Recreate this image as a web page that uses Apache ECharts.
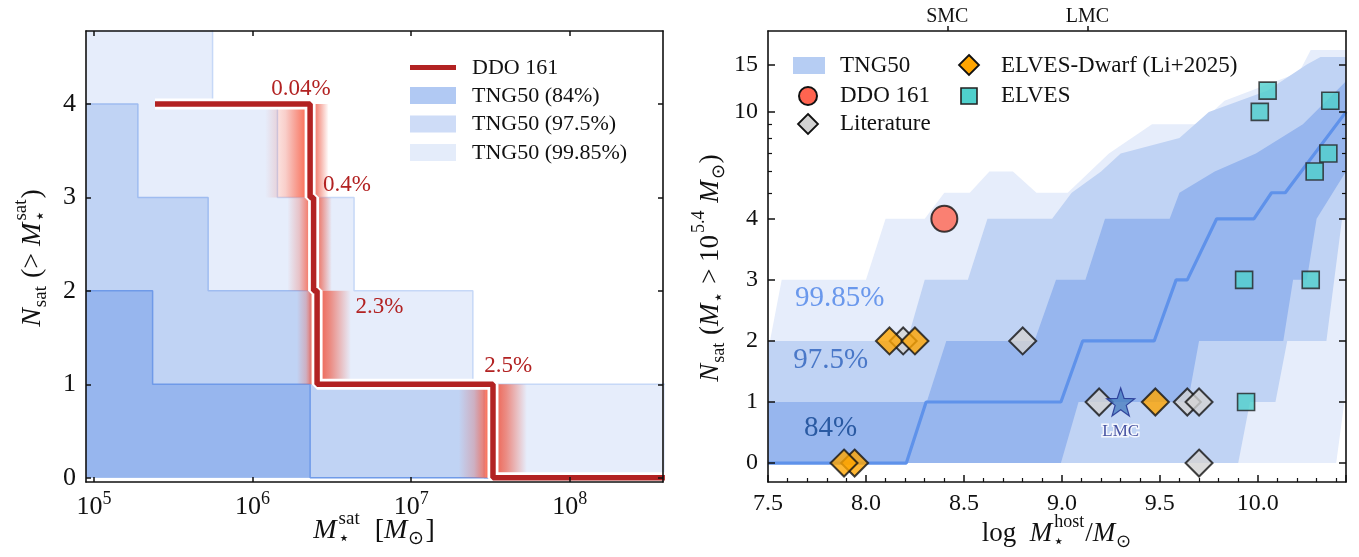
<!DOCTYPE html>
<html>
<head>
<meta charset="utf-8">
<script src="https://cdn.jsdelivr.net/npm/echarts@6/dist/echarts.min.js"></script>
<style>
  html, body { margin: 0; background: #fff; }
  #chart { width: 1359px; height: 557px; }
</style>
</head>
<body>
<div id="chart"></div>
<script>
// ---------- left panel: cumulative satellite mass function ----------
// x values are log10(M_sat / Msun); each envelope holds N from x[i] until x[i+1]
const env99X = [4.95, 5.748, 6.157, 6.64, 7.389, 8.6]
const env99N = [5, 4, 3, 2, 1, 1]
const env975X = [4.95, 5.277, 5.72, 6.363, 7.46, 8.6]
const env975N = [4, 3, 2, 1, 0, 0]
const env84X = [4.95, 5.37, 6.363, 8.6]
const env84N = [2, 1, 0, 0]

// DDO 161 observed satellites
const ddoX = [5.385, 6.363, 6.385, 6.407, 7.516, 8.6]
const ddoN = [4, 3, 2, 1, 0, 0]

// mass uncertainty shading around every DDO 161 step
const shadeLo = [6.08, 6.22, 6.28, 7.30]
const shadeHi = [6.48, 6.50, 6.62, 7.73]
const shadeStep = [6.363, 6.385, 6.407, 7.516]
const shadeNlo = [3, 2, 1, 0]
const shadeNhi = [4, 3, 2, 1]

// probability annotations
const pctText = ['0.04%', '0.4%', '2.3%', '2.5%']
const pctX = [6.306, 6.596, 6.801, 7.612]
const pctY = [4.16, 3.13, 1.83, 1.20]

const leftTicksX = [5, 6, 7, 8]
const leftTicksY = [0, 1, 2, 3, 4]

// ---------- right panel: N_sat vs host stellar mass ----------
// TNG50 envelopes (upper and lower edges), x = log M_host, N = number of satellites
const out99UpX = [7.5, 7.51, 7.57, 8.0, 8.1, 8.3, 8.4, 8.53, 8.63, 8.75, 8.87, 9.03, 9.24, 9.46, 9.7, 9.83, 10.21, 10.27, 10.45]
const out99UpN = [2, 2, 3, 3, 4, 4, 5, 5, 6, 6, 5, 5, 7, 9, 9, 11, 14, 17, 17]
const out99LoX = [7.5, 10.40, 10.45]
const out99LoN = [0, 0, 1.2]

const mid975UpX = [7.5, 8.21, 8.30, 8.52, 8.62, 8.95, 9.05, 9.2, 9.3, 9.6, 9.75, 10.05, 10.25, 10.32, 10.45]
const mid975UpN = [2, 2, 3, 3, 4, 4, 5, 6, 7, 8, 10, 12, 15, 16, 16]
const mid975LoX = [7.5, 9.90, 9.96, 10.09, 10.15, 10.35, 10.39, 10.43, 10.45]
const mid975LoN = [0, 0, 1, 1, 2, 2, 3, 4, 4]

const in84UpX = [7.5, 8.31, 8.41, 8.86, 8.97, 9.12, 9.22, 9.55, 9.6, 9.78, 9.99, 10.23, 10.45]
const in84UpN = [1, 1, 2, 2, 3, 3, 4, 4, 5, 6, 7, 9, 13]
const in84LoX = [7.5, 8.995, 9.085, 9.643, 9.70, 10.13, 10.18, 10.25, 10.3, 10.45]
const in84LoN = [0, 0, 1, 1, 2, 2, 3, 3, 4, 6]

const medX = [7.5, 8.206, 8.307, 8.995, 9.106, 9.471, 9.583, 9.64, 9.79, 9.98, 10.07, 10.14, 10.45]
const medN = [0, 0, 1, 1, 2, 2, 3, 3, 4, 4, 5, 5, 10]

// observed systems
const litX = [8.19, 8.8, 9.19, 9.64, 9.70, 9.70]
const litN = [2, 2, 1, 1, 1, 0]
const dwarfX = [7.942, 7.888, 8.12, 8.25, 9.477]
const dwarfN = [0, 0, 2, 2, 1]
const elvesX = [10.05, 10.01, 10.37, 10.36, 10.29, 9.93, 10.27, 9.94]
const elvesN = [12, 10, 11, 7, 6, 3, 3, 1]
const ddoHostX = [8.40]
const ddoHostN = [4]
const lmcX = [9.30]
const lmcN = [1]

const bandText = ['99.85%', '97.5%', '84%']
const bandTextX = [7.866, 7.82, 7.82]
const bandTextN = [2.70, 1.68, 0.57]
const bandTextColor = ['#6a98ec', '#4a78c8', '#2a5aa2']

const rightTicksN = [0, 1, 2, 3, 4, 10, 15]
const rightMinorN = [5, 6, 7, 8, 9]
const hostNames = ['SMC', 'LMC']
const hostNameX = [8.415, 9.13]

// symlog-like vertical scale: linear up to 4, logarithmic above
function symT(n) {
  return n <= 4 ? n : 4 + 4.4 * Math.log10(n / 4)
}

const FONT = 'Liberation Serif'
const BLACK = '#111'

function zip(xs, ys, f) {
  return xs.map(function (x, i) { return [x, f ? f(ys[i]) : ys[i]] })
}

// text measuring for the hand-set math titles
const measureCtx = document.createElement('canvas').getContext('2d')
function fontOf(size, italic) {
  return (italic ? 'italic ' : '') + size + 'px "Liberation Serif"'
}
function textWidth(t, size, italic) {
  measureCtx.font = fontOf(size, italic)
  return measureCtx.measureText(t).width
}

// parts: ['i', text] italic, ['r', text] roman, ['s', sub, sup] stacked scripts
function mathLabel(cx, cy, size, rot, parts) {
  let small = Math.round(size * 0.68)
  let items = []
  let pos = 0
  parts.forEach(function (p) {
    if (p[0] === 'i' || p[0] === 'r') {
      items.push({t: p[1], x: pos, dy: 0, size: size, italic: p[0] === 'i'})
      pos += textWidth(p[1], size, p[0] === 'i')
    } else {
      let w = 0
      if (p[1]) {
        items.push({t: p[1], x: pos + 1, dy: size * 0.3, size: small})
        w = textWidth(p[1], small)
      }
      if (p[2]) {
        items.push({t: p[2], x: pos + 2, dy: -size * 0.42, size: small})
        w = Math.max(w, textWidth(p[2], small) + 1)
      }
      pos += w + 2
    }
  })
  return {
    type: 'group',
    x: cx,
    y: cy,
    rotation: rot,
    children: items.map(function (it) {
      return {
        type: 'text',
        x: it.x - pos / 2,
        y: it.dy,
        style: {text: it.t, font: fontOf(it.size, it.italic), fill: BLACK, verticalAlign: 'middle'}
      }
    })
  }
}

function bandSeries(upX, upN, loX, loN, color) {
  let pts = zip(upX, upN, symT).concat(zip(loX, loN, symT).reverse())
  return {
    type: 'custom',
    xAxisIndex: 2,
    yAxisIndex: 2,
    data: pts,
    clip: true,
    z: 1,
    silent: true,
    renderItem: function (params, api) {
      if (params.dataIndex !== 0) return
      return {
        type: 'polygon',
        shape: {points: pts.map(function (p) { return api.coord(p) })},
        style: {fill: color}
      }
    }
  }
}

function envSeries(xs, ns, fill, edge, z) {
  return {
    type: 'line',
    xAxisIndex: 0,
    yAxisIndex: 0,
    step: 'end',
    symbol: 'none',
    data: zip(xs, ns),
    lineStyle: {color: edge, width: 1.5},
    areaStyle: {color: fill, opacity: 1},
    z: z,
    silent: true
  }
}

const axisLine = {show: true, onZero: false, lineStyle: {color: BLACK, width: 1.6}}

function tickSuper(v) {
  return '{b|10}{s|' + v + '}'
}

let chart = echarts.init(document.getElementById('chart'), null, {renderer: 'canvas'})

let option = {
  animation: false,
  backgroundColor: '#fff',
  textStyle: {fontFamily: FONT},
  grid: [
    {left: 86, right: 696, top: 31, bottom: 75},
    {left: 768, right: 13, top: 31, bottom: 75},
    {left: 768, right: 13, top: 31, bottom: 75}
  ],
  xAxis: [
    {
      gridIndex: 0, type: 'value', position: 'bottom', min: 4.95, max: 8.588, z: 10,
      axisLine: axisLine,
      axisTick: {inside: true, length: 5, customValues: leftTicksX, lineStyle: {color: BLACK, width: 1.5}},
      axisLabel: {
        customValues: leftTicksX, formatter: tickSuper, margin: 8, color: BLACK,
        rich: {
          b: {fontSize: 26, fontFamily: FONT, color: BLACK},
          s: {fontSize: 18, fontFamily: FONT, color: BLACK, padding: [0, 0, 16, 0]}
        }
      },
      splitLine: {show: false}
    },
    {
      gridIndex: 0, type: 'value', position: 'top', min: 4.95, max: 8.588, z: 10,
      axisLine: axisLine,
      axisTick: {inside: true, length: 5, customValues: leftTicksX, lineStyle: {color: BLACK, width: 1.5}},
      axisLabel: {show: false},
      splitLine: {show: false}
    },
    {
      gridIndex: 1, type: 'value', position: 'bottom', min: 7.5, max: 10.45, interval: 0.5, z: 10,
      axisLine: axisLine,
      axisTick: {inside: true, length: 7, lineStyle: {color: BLACK, width: 1.5}},
      minorTick: {show: true, splitNumber: 5, length: 4, lineStyle: {color: BLACK, width: 1.2}},
      axisLabel: {
        formatter: function (v) { return v.toFixed(1) },
        fontSize: 24, color: BLACK, fontFamily: FONT, margin: 10, showMaxLabel: false
      },
      splitLine: {show: false}
    },
    {
      gridIndex: 1, type: 'value', position: 'top', min: 7.5, max: 10.45, z: 10,
      axisLine: axisLine,
      axisTick: {inside: false, length: 5, customValues: hostNameX, lineStyle: {color: BLACK, width: 1.5}},
      axisLabel: {
        customValues: hostNameX,
        formatter: function (v) {
          let i = hostNameX.indexOf(v)
          return i >= 0 ? hostNames[i] : ''
        },
        fontSize: 20, color: BLACK, fontFamily: FONT, margin: 4
      },
      splitLine: {show: false}
    },
    {
      gridIndex: 2, type: 'value', min: 7.5, max: 10.45,
      axisLine: {show: false}, axisTick: {show: false}, axisLabel: {show: false}, splitLine: {show: false}
    }
  ],
  yAxis: [
    {
      gridIndex: 0, type: 'value', position: 'left', min: -0.045, max: 4.78, z: 10,
      axisLine: axisLine,
      axisTick: {inside: true, length: 5, customValues: leftTicksY, lineStyle: {color: BLACK, width: 1.5}},
      axisLabel: {customValues: leftTicksY, fontSize: 26, color: BLACK, fontFamily: FONT, margin: 10},
      splitLine: {show: false}
    },
    {
      gridIndex: 0, type: 'value', position: 'right', min: -0.045, max: 4.78, z: 10,
      axisLine: axisLine,
      axisTick: {inside: true, length: 5, customValues: leftTicksY, lineStyle: {color: BLACK, width: 1.5}},
      axisLabel: {show: false},
      splitLine: {show: false}
    },
    {
      gridIndex: 1, type: 'value', position: 'left', min: -0.31, max: symT(20), z: 10,
      axisLine: axisLine,
      axisTick: {inside: true, length: 7, customValues: rightTicksN.map(symT), lineStyle: {color: BLACK, width: 1.5}},
      axisLabel: {
        customValues: rightTicksN.map(symT),
        formatter: function (v) {
          for (let i = 0; i < rightTicksN.length; i++) {
            if (Math.abs(symT(rightTicksN[i]) - v) < 1e-6) return String(rightTicksN[i])
          }
          return ''
        },
        fontSize: 24, color: BLACK, fontFamily: FONT, margin: 10
      },
      splitLine: {show: false}
    },
    {
      gridIndex: 1, type: 'value', position: 'right', min: -0.31, max: symT(20), z: 10,
      axisLine: axisLine,
      axisTick: {inside: true, length: 7, customValues: rightTicksN.map(symT), lineStyle: {color: BLACK, width: 1.5}},
      axisLabel: {show: false},
      splitLine: {show: false}
    },
    {
      gridIndex: 2, type: 'value', position: 'left', min: -0.31, max: symT(20), z: 10,
      axisLine: {show: false},
      axisTick: {inside: true, length: 4, customValues: rightMinorN.map(symT), lineStyle: {color: BLACK, width: 1.2}},
      axisLabel: {show: false},
      splitLine: {show: false}
    },
    {
      gridIndex: 2, type: 'value', position: 'right', min: -0.31, max: symT(20), z: 10,
      axisLine: {show: false},
      axisTick: {inside: true, length: 4, customValues: rightMinorN.map(symT), lineStyle: {color: BLACK, width: 1.2}},
      axisLabel: {show: false},
      splitLine: {show: false}
    }
  ],
  series: [
    // left panel envelopes
    envSeries(env99X, env99N, '#e6edfb', '#c6d8f7', 1),
    envSeries(env975X, env975N, '#c0d3f4', '#9fbcf0', 2),
    envSeries(env84X, env84N, '#97b6ee', '#6f9ae8', 3),
    {
      type: 'custom',
      xAxisIndex: 0,
      yAxisIndex: 0,
      z: 4,
      silent: true,
      data: shadeLo.map(function (lo, i) { return [lo, shadeHi[i], shadeNlo[i], shadeNhi[i], shadeStep[i]] }),
      encode: {x: [0, 1], y: [2, 3]},
      renderItem: function (params, api) {
        let lo = api.value(0), hi = api.value(1), st = api.value(4)
        let p0 = api.coord([lo, api.value(3)])
        let p1 = api.coord([hi, api.value(2)])
        let f = (st - lo) / (hi - lo)
        return {
          type: 'rect',
          shape: {x: p0[0], y: p0[1], width: p1[0] - p0[0], height: p1[1] - p0[1]},
          style: {
            fill: new echarts.graphic.LinearGradient(0, 0, 1, 0, [
              {offset: 0, color: 'rgba(235,95,80,0)'},
              {offset: f * 0.45, color: 'rgba(235,95,80,0.3)'},
              {offset: Math.max(f - 0.1, 0), color: 'rgba(250,100,75,0.85)'},
              {offset: f, color: 'rgba(240,80,60,0.95)'},
              {offset: f + (1 - f) * 0.4, color: 'rgba(238,90,70,0.65)'},
              {offset: 1, color: 'rgba(238,90,70,0)'}
            ])
          }
        }
      }
    },
    {
      type: 'line', xAxisIndex: 0, yAxisIndex: 0, step: 'end', symbol: 'none', z: 5, silent: true,
      data: zip(ddoX, ddoN), lineStyle: {color: '#fff', width: 11}
    },
    {
      type: 'line', xAxisIndex: 0, yAxisIndex: 0, step: 'end', symbol: 'none', z: 6, silent: true,
      data: zip(ddoX, ddoN), lineStyle: {color: '#b22222', width: 5.5}
    },
    {
      type: 'custom', xAxisIndex: 0, yAxisIndex: 0, z: 7, silent: true,
      data: zip(pctX, pctY),
      renderItem: function (params, api) {
        let p = api.coord([api.value(0), api.value(1)])
        return {
          type: 'text', x: p[0], y: p[1],
          style: {text: pctText[params.dataIndex], fill: '#b22222', font: '23px "Liberation Serif"', align: 'center', verticalAlign: 'middle'}
        }
      }
    },
    // right panel envelopes
    bandSeries(out99UpX, out99UpN, out99LoX, out99LoN, '#e6edfb'),
    bandSeries(mid975UpX, mid975UpN, mid975LoX, mid975LoN, '#c0d3f4'),
    bandSeries(in84UpX, in84UpN, in84LoX, in84LoN, '#97b6ee'),
    {
      type: 'line', xAxisIndex: 2, yAxisIndex: 2, symbol: 'none', z: 3, silent: true,
      data: zip(medX, medN, symT), lineStyle: {color: '#5f92ea', width: 3.2}
    },
    {
      type: 'custom', xAxisIndex: 2, yAxisIndex: 2, z: 3, silent: true,
      data: zip(bandTextX, bandTextN),
      renderItem: function (params, api) {
        let p = api.coord([api.value(0), api.value(1)])
        return {
          type: 'text', x: p[0], y: p[1],
          style: {text: bandText[params.dataIndex], fill: bandTextColor[params.dataIndex], font: '29px "Liberation Serif"', align: 'center', verticalAlign: 'middle'}
        }
      }
    },
    {
      type: 'scatter', xAxisIndex: 2, yAxisIndex: 2, z: 4, silent: true,
      symbol: 'diamond', symbolSize: 27,
      data: zip(litX, litN, symT),
      itemStyle: {color: '#d3d3d3', borderColor: BLACK, borderWidth: 2}
    },
    {
      type: 'scatter', xAxisIndex: 2, yAxisIndex: 2, z: 5, silent: true,
      symbol: 'diamond', symbolSize: 27,
      data: zip(dwarfX, dwarfN, symT),
      itemStyle: {color: '#ffa500', borderColor: BLACK, borderWidth: 2}
    },
    {
      type: 'scatter', xAxisIndex: 2, yAxisIndex: 2, z: 5, silent: true,
      symbol: 'rect', symbolSize: 17,
      data: zip(elvesX, elvesN, symT),
      itemStyle: {color: '#4fd0cc', borderColor: '#222', borderWidth: 1.6}
    },
    {
      type: 'scatter', xAxisIndex: 2, yAxisIndex: 2, z: 6, silent: true,
      symbol: 'circle', symbolSize: 26,
      data: zip(ddoHostX, ddoHostN, symT),
      itemStyle: {color: '#ff6450', borderColor: BLACK, borderWidth: 2}
    },
    {
      type: 'scatter', xAxisIndex: 2, yAxisIndex: 2, z: 6, silent: true,
      symbol: 'path://M0,-10L2.35,-3.24L9.51,-3.09L3.8,1.24L5.88,8.09L0,4L-5.88,8.09L-3.8,1.24L-9.51,-3.09L-2.35,-3.24Z',
      symbolSize: 28,
      data: zip(lmcX, lmcN, symT),
      itemStyle: {color: '#4a80c0', borderColor: '#1c2a8c', borderWidth: 1.2},
      label: {
        show: true, position: 'bottom', distance: 6, formatter: 'LMC',
        fontFamily: FONT, fontSize: 17, color: '#1c2a8c', textBorderColor: '#fff', textBorderWidth: 3
      }
    }
  ],
  graphic: [
    // left legend
    {type: 'line', shape: {x1: 410, y1: 67.5, x2: 456, y2: 67.5}, style: {stroke: '#b22222', lineWidth: 5}},
    {type: 'text', x: 472, y: 68, style: {text: 'DDO 161', font: '22px "Liberation Serif"', fill: BLACK, verticalAlign: 'middle'}},
    {type: 'rect', shape: {x: 410, y: 87, width: 46, height: 17}, style: {fill: '#b1c9f3'}},
    {type: 'text', x: 472, y: 96, style: {text: 'TNG50 (84%)', font: '22px "Liberation Serif"', fill: BLACK, verticalAlign: 'middle'}},
    {type: 'rect', shape: {x: 410, y: 115.5, width: 46, height: 17}, style: {fill: '#cedcf7'}},
    {type: 'text', x: 472, y: 124.5, style: {text: 'TNG50 (97.5%)', font: '22px "Liberation Serif"', fill: BLACK, verticalAlign: 'middle'}},
    {type: 'rect', shape: {x: 410, y: 144, width: 46, height: 17}, style: {fill: '#e4ecfa'}},
    {type: 'text', x: 472, y: 153.5, style: {text: 'TNG50 (99.85%)', font: '22px "Liberation Serif"', fill: BLACK, verticalAlign: 'middle'}},
    // right legend
    {type: 'rect', shape: {x: 793, y: 57, width: 32, height: 17}, style: {fill: '#b6cdf3'}},
    {type: 'text', x: 840, y: 66, style: {text: 'TNG50', font: '23px "Liberation Serif"', fill: BLACK, verticalAlign: 'middle'}},
    {type: 'circle', shape: {cx: 808, cy: 96, r: 9}, style: {fill: '#ff6450', stroke: BLACK, lineWidth: 2}},
    {type: 'text', x: 840, y: 96, style: {text: 'DDO 161', font: '23px "Liberation Serif"', fill: BLACK, verticalAlign: 'middle'}},
    {type: 'polygon', shape: {points: [[808, 114], [818, 124], [808, 134], [798, 124]]}, style: {fill: '#d3d3d3', stroke: BLACK, lineWidth: 1.8}},
    {type: 'text', x: 840, y: 124, style: {text: 'Literature', font: '23px "Liberation Serif"', fill: BLACK, verticalAlign: 'middle'}},
    {type: 'polygon', shape: {points: [[969, 55], [979, 65], [969, 75], [959, 65]]}, style: {fill: '#ffa500', stroke: BLACK, lineWidth: 1.8}},
    {type: 'text', x: 1001, y: 66, style: {text: 'ELVES-Dwarf (Li+2025)', font: '23px "Liberation Serif"', fill: BLACK, verticalAlign: 'middle'}},
    {type: 'rect', shape: {x: 961, y: 88, width: 16, height: 16}, style: {fill: '#4fd0cc', stroke: '#222', lineWidth: 1.6}},
    {type: 'text', x: 1001, y: 96, style: {text: 'ELVES', font: '23px "Liberation Serif"', fill: BLACK, verticalAlign: 'middle'}},
    // axis titles
    mathLabel(33, 258, 28, Math.PI / 2, [['i', 'N'], ['s', 'sat', ''], ['r', ' (> '], ['i', 'M'], ['s', '⋆', 'sat'], ['r', ')']]),
    mathLabel(374, 531, 28, 0, [['i', 'M'], ['s', '⋆', 'sat'], ['r', '  ['], ['i', 'M'], ['s', '⊙', ''], ['r', ']']]),
    mathLabel(711, 268, 27, Math.PI / 2, [['i', 'N'], ['s', 'sat', ''], ['r', ' ('], ['i', 'M'], ['s', '⋆', ''], ['r', ' > 10'], ['s', '', '5.4'], ['r', ' '], ['i', 'M'], ['s', '⊙', ''], ['r', ')']]),
    mathLabel(1057, 534, 27, 0, [['r', 'log  '], ['i', 'M'], ['s', '⋆', 'host'], ['r', '/'], ['i', 'M'], ['s', '⊙', '']])
  ]
}

chart.setOption(option)
</script>
</body>
</html>
